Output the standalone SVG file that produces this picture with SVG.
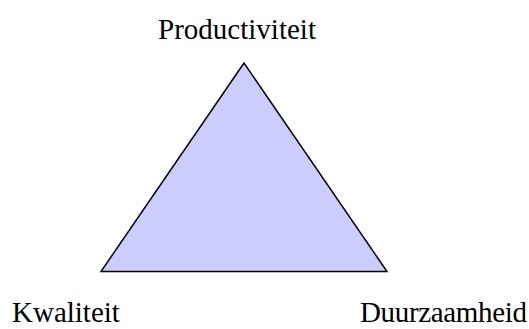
<svg xmlns="http://www.w3.org/2000/svg" width="529" height="329" viewBox="0 0 529 329">
<style>
.lbl{font-family:"Liberation Serif","Times New Roman",serif;font-size:29px;fill:#000}
.tri{fill:#ccccff;stroke:#000;stroke-width:1.5;stroke-linejoin:miter}
</style>
<rect width="529" height="329" fill="#fff"/>
<g id="triangle"><polygon class="tri" points="244,63 101,271.5 387,271.5"/></g>
<g id="connectors"></g>
<g id="productiviteit"><text class="lbl" x="237" y="39" text-anchor="middle">Productiviteit</text></g>
<g id="kwaliteit"><text class="lbl" x="12" y="322">Kwaliteit</text></g>
<g id="duurzaamheid"><text class="lbl" x="527" y="322" text-anchor="end" textLength="167">Duurzaamheid</text></g>
</svg>
